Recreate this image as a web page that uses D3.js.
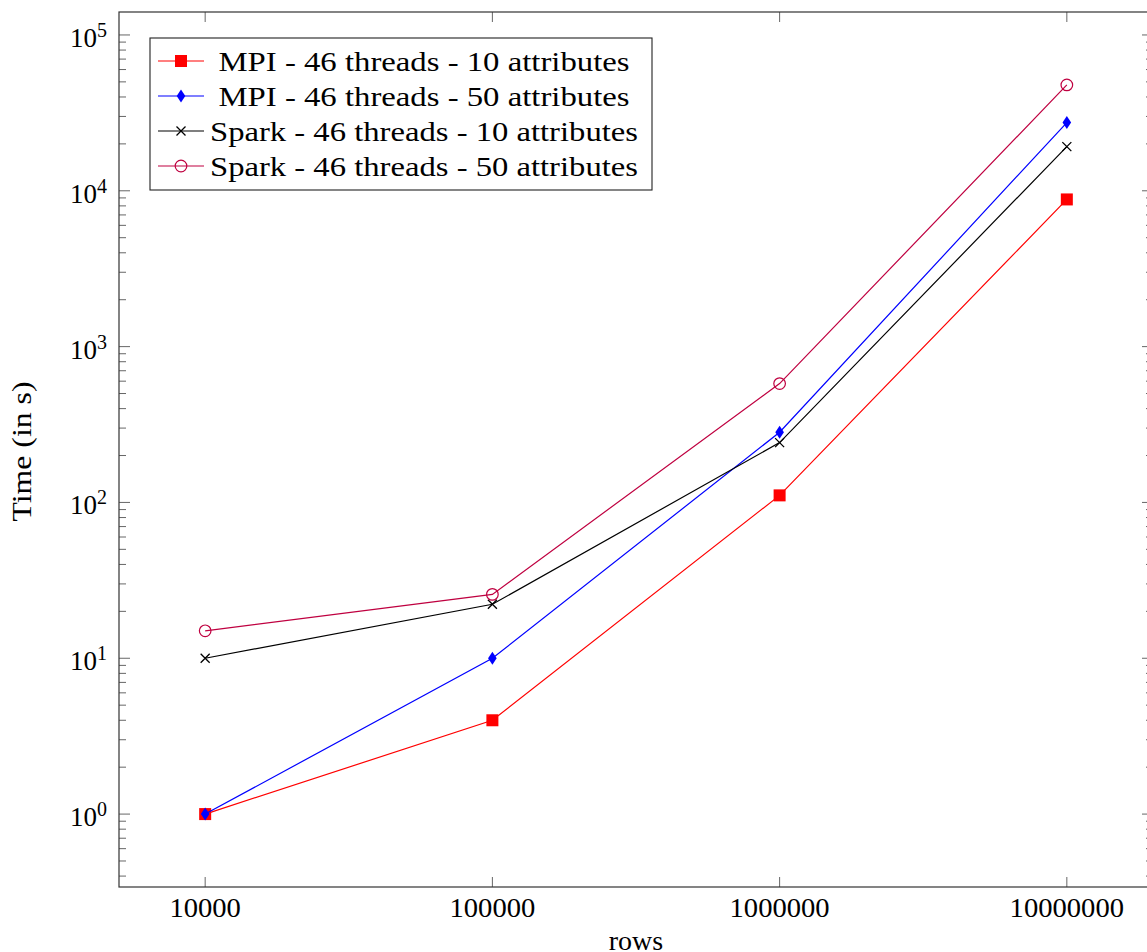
<!DOCTYPE html>
<html><head><meta charset="utf-8">
<script src="https://cdn.jsdelivr.net/npm/d3@7"></script>
<style>
html,body{margin:0;padding:0;background:#fff;overflow:hidden;}
text{font-family:"Liberation Serif","DejaVu Serif",serif;fill:#000;}
</style></head>
<body><svg id="c" width="1147" height="952"></svg>
<script>
const rows = [10000, 100000, 1000000, 10000000];
const xTickLabels = ["10000", "100000", "1000000", "10000000"];
const yTickExps = [0, 1, 2, 3, 4, 5];
const seriesNames = ["MPI - 46 threads - 10 attributes", "MPI - 46 threads - 50 attributes",
  "Spark - 46 threads - 10 attributes", "Spark - 46 threads - 50 attributes"];
const mpi10 = [1, 4, 111, 8800];
const mpi50 = [1, 10, 282, 27400];
const spark10 = [10, 22.2, 242, 19200];
const spark50 = [15, 25.7, 579, 47800];
const seriesColors = ["#ff0000", "#0000ff", "#000000", "#bf0040"];
const seriesMarks = ["square", "diamond", "cross", "circle"];
const allSeries = [mpi10, mpi50, spark10, spark50];

const svg = d3.select("#c");
const L = 119, R = 1153, T = 12, B = 887;

// pgfplots-style 10% enlargement in log space
const lx = rows.map(Math.log10);
const xr = d3.extent(lx), xe = (xr[1]-xr[0])*0.1;
const x = d3.scaleLog().domain([10**(xr[0]-xe), 10**(xr[1]+xe)]).range([L, R]);
const ly = allSeries.flat().map(Math.log10);
const yr = d3.extent(ly), ye = (yr[1]-yr[0])*0.1;
const y = d3.scaleLog().domain([10**(yr[0]-ye), 10**(yr[1]+ye)]).range([B, T]);

// minor y ticks
const minor = [];
for (let e = -1; e <= 5; e++) for (let m = 2; m <= 9; m++) {
  const v = m * 10**e;
  if (v > y.domain()[0] && v < y.domain()[1]) minor.push(v);
}
const tg = svg.append("g").attr("stroke", "#555").attr("stroke-width", 0.9);
minor.forEach(v => {
  tg.append("line").attr("x1", L).attr("x2", L+7).attr("y1", y(v)).attr("y2", y(v));
  tg.append("line").attr("x1", R).attr("x2", R-7).attr("y1", y(v)).attr("y2", y(v));
});
yTickExps.forEach(e => {
  const v = 10**e;
  tg.append("line").attr("x1", L).attr("x2", L+11).attr("y1", y(v)).attr("y2", y(v));
  tg.append("line").attr("x1", R).attr("x2", R-11).attr("y1", y(v)).attr("y2", y(v));
});
rows.forEach(v => {
  tg.append("line").attr("x1", x(v)).attr("x2", x(v)).attr("y1", B).attr("y2", B-10);
  tg.append("line").attr("x1", x(v)).attr("x2", x(v)).attr("y1", T).attr("y2", T+10);
});

// frame
svg.append("rect").attr("x", L).attr("y", T).attr("width", R-L).attr("height", B-T)
  .attr("fill", "none").attr("stroke", "#333").attr("stroke-width", 1.2);

// tick labels
rows.forEach((v, i) => {
  svg.append("text").attr("x", x(v)).attr("y", B+30).attr("text-anchor", "middle")
    .attr("font-size", 28).attr("textLength", xTickLabels[i].length*14.3).attr("lengthAdjust", "spacingAndGlyphs")
    .text(xTickLabels[i]);
});
yTickExps.forEach(e => {
  const t = svg.append("text").attr("x", 107).attr("y", y(10**e)+12).attr("text-anchor", "end").attr("font-size", 27);
  t.append("tspan").text("10");
  t.append("tspan").attr("font-size", 20).attr("dy", -10).text(String(e));
});

// axis labels
svg.append("text").attr("x", (L+R)/2).attr("y", 950).attr("text-anchor", "middle").attr("font-size", 28).text("rows");
svg.append("text").attr("transform", `translate(31,${(T+B)/2+2}) rotate(-90)`).attr("text-anchor", "middle")
  .attr("font-size", 28).attr("textLength", 140).attr("lengthAdjust", "spacingAndGlyphs").text("Time (in s)");

function drawMark(g, type, cx, cy, color) {
  if (type === "square") g.append("rect").attr("x", cx-6).attr("y", cy-6).attr("width", 12).attr("height", 12).attr("fill", color);
  else if (type === "diamond") g.append("path").attr("d", `M${cx},${cy-6.5}L${cx+4.3},${cy}L${cx},${cy+6.5}L${cx-4.3},${cy}Z`).attr("fill", color);
  else if (type === "cross") g.append("path").attr("d", `M${cx-4.5},${cy-4.5}L${cx+4.5},${cy+4.5}M${cx-4.5},${cy+4.5}L${cx+4.5},${cy-4.5}`).attr("stroke", color).attr("stroke-width", 1.3).attr("fill", "none");
  else g.append("circle").attr("cx", cx).attr("cy", cy).attr("r", 5.8).attr("fill", "none").attr("stroke", color).attr("stroke-width", 1.2);
}

const line = d3.line().x((d, i) => x(rows[i])).y(d => y(d));
allSeries.forEach((s, k) => {
  const g = svg.append("g");
  g.append("path").attr("d", line(s)).attr("fill", "none").attr("stroke", seriesColors[k]).attr("stroke-width", 1.2);
  s.forEach((d, i) => drawMark(g, seriesMarks[k], x(rows[i]), y(d), seriesColors[k]));
});

// legend
const lg = svg.append("g");
lg.append("rect").attr("x", 150).attr("y", 38).attr("width", 502).attr("height", 152)
  .attr("fill", "#fff").attr("stroke", "#222").attr("stroke-width", 1.1);
seriesNames.forEach((n, k) => {
  const cy = 61 + k*35;
  lg.append("line").attr("x1", 158).attr("x2", 204).attr("y1", cy).attr("y2", cy)
    .attr("stroke", seriesColors[k]).attr("stroke-width", 1.2);
  drawMark(lg, seriesMarks[k], 181, cy, seriesColors[k]);
  lg.append("text").attr("x", 424).attr("y", cy+10).attr("text-anchor", "middle").attr("font-size", 27)
    .attr("textLength", n.startsWith("MPI") ? 411 : 428).attr("lengthAdjust", "spacingAndGlyphs").text(n);
});
</script></body></html>
